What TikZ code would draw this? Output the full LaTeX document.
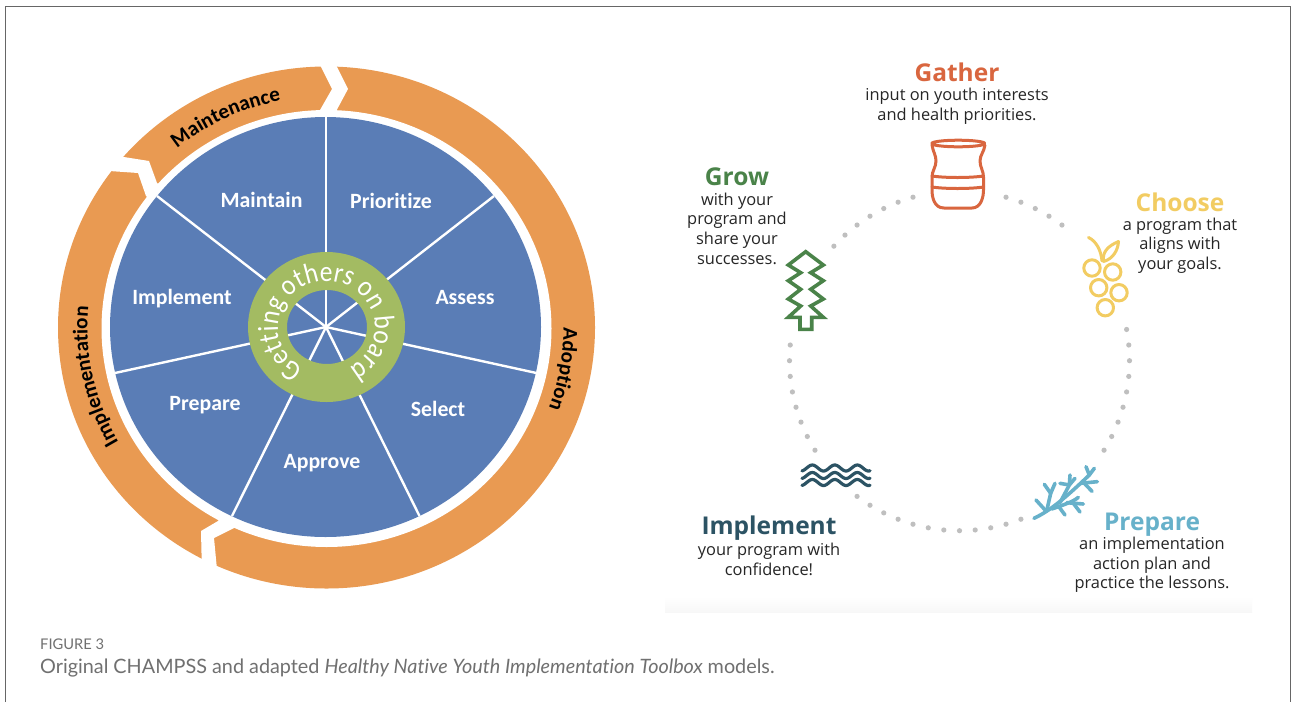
\documentclass[tikz,border=0pt]{standalone}
\usepackage{fontspec}
\usetikzlibrary{decorations.text}
\setmainfont[Ligatures=NoCommon]{Lato}
\newfontfamily\carlito[Ligatures=NoCommon]{Carlito}
\newfontfamily\carlitonarrow[Ligatures=NoCommon,FakeStretch=0.88]{Carlito}
\newfontfamily\opensans{Open Sans}
\newfontfamily\latofont[Ligatures=NoCommon]{Lato}
\definecolor{wheelblue}{HTML}{5A7DB6}
\definecolor{ringorange}{HTML}{E99A52}
\definecolor{hubgreen}{HTML}{A3BB62}
\definecolor{dotgray}{HTML}{BFBFBF}
\definecolor{gathercol}{HTML}{D9663F}
\definecolor{growcol}{HTML}{4A8349}
\definecolor{choosecol}{HTML}{F2CC62}
\definecolor{preparecol}{HTML}{67B1CA}
\definecolor{implcol}{HTML}{2C5364}
\definecolor{framecol}{HTML}{666666}
\definecolor{captioncol}{HTML}{707070}
\def\ringfont{\carlito\bfseries\fontsize{21}{24}\selectfont}
\def\hubfont{\carlitonarrow\fontsize{29}{32}\selectfont}
\tikzset{
  wheellabel/.style={anchor=base,text=white,font=\carlito\bfseries\fontsize{21.8}{25}\selectfont,inner sep=0pt},
  headlabel/.style={anchor=base,font=\opensans\bfseries\fontsize{24.5}{28}\selectfont,inner sep=0pt},
  bodylabel/.style={text=black!85,font=\opensans\fontsize{16.4}{19.6}\selectfont,align=center,inner sep=0pt},
  spoke/.style={draw=white,line width=2.4pt},
  icon/.style={line width=3pt,line join=round,line cap=round},
  dotmark/.style={fill=dotgray},
  ringtext/.style={decorate,decoration={text along path,text align=center,text={#1}}},
}
\begin{document}
\begin{tikzpicture}[x=1pt,y=-1pt]
\useasboundingbox (0,0) rectangle (1292,702);
\fill[white] (0,0) rectangle (1292,702);
% frame
\draw[framecol,line width=1pt] (5.5,702) -- (5.5,6) -- (1290.5,6) -- (1290.5,702);
% faint band under the right panel
\shade[top color=white,bottom color=black!3] (665,596) rectangle (1252,612);
% orange ring
\fill[ringorange] (326.5,327.5) ellipse [x radius=268.5,y radius=261];
\fill[white] (326.5,328.5) ellipse [x radius=225,y radius=218.5];
% gaps between the arrows
\fill[white] (315,55) -- (332,89) -- (316,117) -- (333,117) -- (348,89) -- (331,55) -- cycle;
\fill[white] (95,170) -- (138,173) -- (146,196) -- (158,205) -- (168,192) -- (157,183) -- (149,161) -- (105,154) -- cycle;
\fill[white] (226,512) -- (218,521) -- (201,531) -- (202,575) -- (218,580) -- (214,538) -- (234,528) -- (242,518) -- cycle;
% wheel
\fill[wheelblue] (325.5,327) ellipse [x radius=215.5,y radius=210];
\coordinate (hub) at (326,327);
\foreach \px/\py in {326/117,494/196,541/374,419.5/516,232/516,115/373,157/196}{
  \draw[spoke] (hub) -- (\px,\py);
}
% green hub (even odd, so the spokes show through the hole)
\fill[hubgreen,even odd rule] (326.5,327) ellipse [x radius=78.5,y radius=75]
   (327,327) ellipse [x radius=40,y radius=37];
% ring text
\path[ringtext={|\hubfont\color{white}|Getting others on board}]
  ({326.5+48.5*cos(265)},{327-46*sin(265)}) arc[start angle=265,end angle=-85,x radius=48.5pt,y radius=46pt];
\path[ringtext={|\ringfont|Maintenance}]
  ({326.5+237*cos(175.5)},{327.5-231*sin(175.5)}) arc[start angle=175.5,end angle=55.5,x radius=237pt,y radius=231pt];
\path[ringtext={|\ringfont|Implementation}]
  ({326.5+239*cos(252)},{327.5-232*sin(252)}) arc[start angle=252,end angle=132,x radius=239pt,y radius=232pt];
\path[ringtext={|\ringfont|Adoption}]
  ({326.5+237*cos(50)},{327.5-231*sin(50)}) arc[start angle=50,end angle=-70,x radius=237pt,y radius=231pt];
% wheel labels
\node[wheellabel] (maintain) at (261.5,207) {Maintain};
\node[wheellabel] (prioritize) at (391,208) {Prioritize};
\node[wheellabel] (assess) at (465,304) {Assess};
\node[wheellabel] (implementw) at (182,304) {Implement};
\node[wheellabel] (preparew) at (205,410) {Prepare};
\node[wheellabel] (select) at (438,416) {Select};
\node[wheellabel] (approve) at (322,468) {Approve};
% dotted circle
\foreach \k in {-6,...,2,10,11,12,13,14,20,21,...,26,33,34,...,40,44,45,...,55}{
  \fill[dotmark] ({959.5+170*cos(\k*5.2941)},{360.7-170*sin(\k*5.2941)}) circle (2.6);
}
% jar
\begin{scope}[icon,draw=gathercol]
\draw (958.3,143.5) ellipse [x radius=26.5,y radius=3.3];
\draw (932,145) .. controls (933,152) and (936,155) .. (936,161)
      .. controls (936,167) and (932,171) .. (932,177)
      -- (932,190) .. controls (932,197) and (934,208) .. (944,208)
      -- (972,208) .. controls (981,208) and (983.5,197) .. (983.5,190)
      -- (983.5,177) .. controls (983.5,171) and (980,167) .. (980,161)
      .. controls (980,155) and (984,152) .. (985,145);
\draw (932,176) .. controls (945,178) and (970,178) .. (983.5,176);
\draw (932,187) .. controls (945,189) and (970,189) .. (983.5,187);
\end{scope}
% grapes
\begin{scope}[icon,draw=choosecol]
\foreach \gx/\gy in {1092/268,1112.7/272,1098.7/287.7,1119/292.7,1105.3/307.7}{
  \draw (\gx,\gy) circle (8.2);
}
\draw (1088.5,237.5) .. controls (1096,241) and (1101,250) .. (1102,261);
\draw (1103.5,261.5) .. controls (1102,252) and (1108,246) .. (1118.5,241.5)
      .. controls (1118,250) and (1113,259) .. (1103.5,261.5);
\end{scope}
% tree
\draw[icon,draw=growcol,line width=3.6pt,line cap=butt,line join=miter]
  (805.7,251.7) -- (823.3,265) -- (810.7,272.7) -- (823.3,280.7) -- (810.7,289.3)
  -- (823.3,299) -- (810.7,306) -- (823.3,317.3) -- (811.7,317.3) -- (811.7,329.3)
  -- (800,329.3) -- (800,317.3) -- (788.3,317.3) -- (800.7,306) -- (788.3,299)
  -- (800.7,289.3) -- (788.3,280.7) -- (800.7,272.7) -- (788.3,265) -- cycle;
% waves
\foreach \wy in {468,475.5,482.5}{
  \draw[icon,draw=implcol,line width=3.2pt] plot[smooth,domain=802:870,samples=60]
    ({\x},{\wy-3*cos(16*(\x-812.3))});
}
% branch
\begin{scope}[shift={(1010,450)},x=0.3333pt,y=-0.3333pt,icon,draw=preparecol,line width=3.6pt]
\draw (72,205) .. controls (125,180) and (175,135) .. (238,75);
\draw (238,75) -- (228,50);
\draw (238,75) -- (253,55);
\draw (212,100) -- (262,95);
\draw (225,102) -- (246,124);
\draw (150,158) -- (178,105);
\draw (178,105) -- (150,100);
\draw (178,105) -- (180,75);
\draw (178,105) -- (195,85);
\draw (110,183) -- (122,130);
\draw (122,130) -- (103,103);
\draw (122,130) -- (135,100);
\draw (108,183) -- (78,150);
\draw (125,177) .. controls (160,165) and (190,155) .. (205,142);
\draw (170,158) -- (220,162);
\draw (190,160) -- (210,186);
\draw (148,172) -- (165,195);
\end{scope}
% right panel texts
\node[headlabel,text=gathercol] (gather) at (957,81) {Gather};
\node[bodylabel] (gatherb) at (957,106.5) {input on youth interests\\and health priorities.};
\node[headlabel,text=growcol] (grow) at (737,185) {Grow};
\node[bodylabel] (growb) at (737,228.5) {with your\\program and\\share your\\successes.};
\node[headlabel,text=choosecol] (choose) at (1180,211) {Choose};
\node[bodylabel] (chooseb) at (1180,245.5) {a program that\\aligns with\\your goals.};
\node[headlabel,text=preparecol] (prepare) at (1152,530) {Prepare};
\node[bodylabel] (prepareb) at (1152,565) {an implementation\\action plan and\\practice the lessons.};
\node[headlabel,text=implcol] (implement) at (769,534.5) {Implement};
\node[bodylabel] (implementb) at (769,559.5) {your program with\\confidence!};
% caption
\node[anchor=base west,inner sep=0pt,text=captioncol,font=\latofont\fontsize{14.7}{16}\selectfont] (figlabel) at (40,649) {FIGURE 3};
\node[anchor=base west,inner sep=0pt,text=captioncol,font=\latofont\fontsize{19.8}{21}\selectfont] (caption) at (40,673) {Original CHAMPSS and adapted \textit{Healthy Native Youth Implementation Toolbox} models.};
\end{tikzpicture}
\end{document}
